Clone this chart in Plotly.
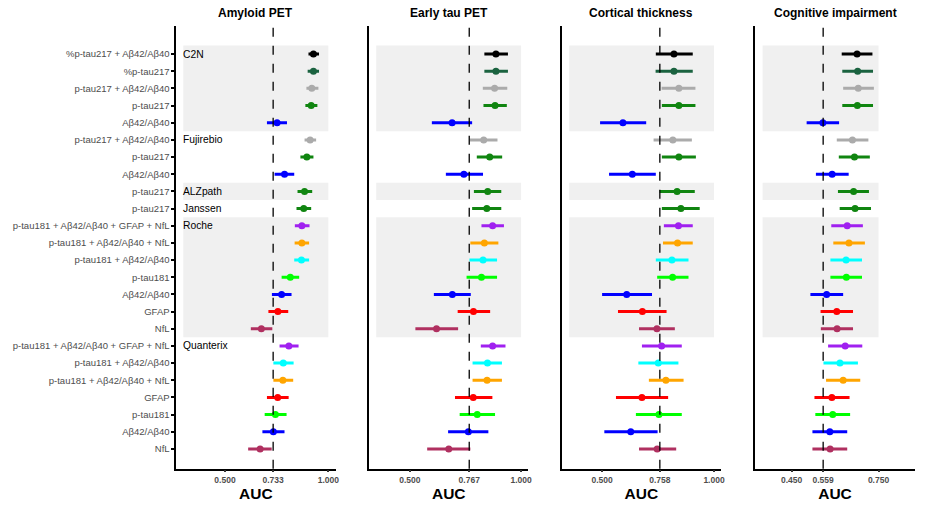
import plotly.graph_objects as go

W, H = 930, 513

row_labels = [
    "%p-tau217 + Aβ42/Aβ40", "%p-tau217", "p-tau217 + Aβ42/Aβ40", "p-tau217", "Aβ42/Aβ40",
    "p-tau217 + Aβ42/Aβ40", "p-tau217", "Aβ42/Aβ40",
    "p-tau217",
    "p-tau217",
    "p-tau181 + Aβ42/Aβ40 + GFAP + NfL", "p-tau181 + Aβ42/Aβ40 + NfL", "p-tau181 + Aβ42/Aβ40",
    "p-tau181", "Aβ42/Aβ40", "GFAP", "NfL",
    "p-tau181 + Aβ42/Aβ40 + GFAP + NfL", "p-tau181 + Aβ42/Aβ40", "p-tau181 + Aβ42/Aβ40 + NfL",
    "GFAP", "p-tau181", "Aβ42/Aβ40", "NfL",
]
row_kind = [
    "pct_combo", "pct", "combo217", "ptau217", "ab",
    "combo217", "ptau217", "ab",
    "ptau217",
    "ptau217",
    "all4", "combo_nfl", "combo181", "ptau181", "ab", "gfap", "nfl",
    "all4", "combo181", "combo_nfl", "gfap", "ptau181", "ab", "nfl",
]
kind_colors = {
    "pct_combo": "#000000", "pct": "#1b6340", "combo217": "#ababab", "ptau217": "#108510",
    "ab": "#0000ff", "all4": "#a020f0", "combo_nfl": "#ffa500", "combo181": "#00ffff",
    "ptau181": "#00ff00", "gfap": "#ff0000", "nfl": "#b03060",
}

companies = ["C2N", "Fujirebio", "ALZpath", "Janssen", "Roche", "Quanterix"]
company_rows = [1, 6, 9, 10, 11, 18]
company_spans = [(1, 5), (6, 8), (9, 9), (10, 10), (11, 17), (18, 24)]
shaded = [True, False, True, False, True, False]

panel_titles = ["Amyloid PET", "Early tau PET", "Cortical thickness", "Cognitive impairment"]
ref_values = [0.733, 0.767, 0.758, 0.559]
tick_values = [[0.5, 0.733, 1.0], [0.5, 0.767, 1.0], [0.5, 0.758, 1.0], [0.45, 0.559, 0.75]]
tick_text = [["0.500", "0.733", "1.000"], ["0.500", "0.767", "1.000"],
             ["0.500", "0.758", "1.000"], ["0.450", "0.559", "0.750"]]
shade_lo = [0.298, 0.349, 0.353, 0.350]
shade_hi = [1.0, 1.0, 1.0, 0.75]
x_ranges = [[0.264, 1.035], [0.317, 1.033], [0.319, 1.032], [0.324, 0.876]]

amyloid_auc = [0.928, 0.928, 0.920, 0.917, 0.752, 0.912, 0.896, 0.788, 0.885, 0.881,
               0.872, 0.872, 0.870, 0.816, 0.774, 0.756, 0.676,
               0.809, 0.782, 0.780, 0.755, 0.744, 0.734, 0.670]
amyloid_lo = [0.904, 0.900, 0.894, 0.889, 0.703, 0.885, 0.865, 0.740, 0.851, 0.846,
              0.838, 0.837, 0.835, 0.774, 0.727, 0.710, 0.625,
              0.764, 0.734, 0.734, 0.703, 0.692, 0.681, 0.612]
amyloid_hi = [0.955, 0.955, 0.952, 0.947, 0.800, 0.941, 0.928, 0.835, 0.922, 0.917,
              0.909, 0.907, 0.907, 0.859, 0.822, 0.806, 0.729,
              0.856, 0.832, 0.830, 0.808, 0.798, 0.788, 0.726]

tau_auc = [0.887, 0.887, 0.881, 0.883, 0.690, 0.832, 0.859, 0.743, 0.850, 0.846,
           0.872, 0.835, 0.829, 0.822, 0.691, 0.786, 0.620,
           0.872, 0.849, 0.847, 0.785, 0.803, 0.763, 0.675]
tau_lo = [0.835, 0.835, 0.828, 0.831, 0.599, 0.770, 0.801, 0.662, 0.788, 0.780,
          0.822, 0.772, 0.768, 0.755, 0.608, 0.715, 0.525,
          0.819, 0.782, 0.782, 0.703, 0.724, 0.672, 0.578]
tau_hi = [0.941, 0.941, 0.938, 0.936, 0.780, 0.894, 0.915, 0.829, 0.911, 0.911,
          0.923, 0.898, 0.892, 0.892, 0.774, 0.861, 0.717,
          0.930, 0.914, 0.914, 0.871, 0.883, 0.853, 0.772]

cortical_auc = [0.821, 0.821, 0.843, 0.843, 0.593, 0.816, 0.843, 0.635, 0.835, 0.852,
                0.841, 0.837, 0.812, 0.815, 0.610, 0.680, 0.745,
                0.766, 0.751, 0.785, 0.678, 0.754, 0.628, 0.746]
cortical_lo = [0.740, 0.739, 0.766, 0.767, 0.491, 0.730, 0.767, 0.531, 0.757, 0.767,
               0.776, 0.772, 0.740, 0.746, 0.500, 0.571, 0.665,
               0.678, 0.662, 0.709, 0.562, 0.651, 0.510, 0.665]
cortical_hi = [0.905, 0.905, 0.917, 0.917, 0.697, 0.901, 0.919, 0.740, 0.914, 0.936,
               0.905, 0.905, 0.886, 0.886, 0.723, 0.788, 0.825,
               0.856, 0.841, 0.864, 0.795, 0.856, 0.748, 0.831]

cognitive_auc = [0.676, 0.678, 0.680, 0.677, 0.558, 0.660, 0.667, 0.590, 0.664, 0.669,
                 0.642, 0.648, 0.638, 0.639, 0.571, 0.606, 0.607,
                 0.635, 0.617, 0.628, 0.589, 0.592, 0.582, 0.583]
cognitive_lo = [0.623, 0.625, 0.628, 0.625, 0.502, 0.606, 0.613, 0.534, 0.610, 0.616,
                0.587, 0.594, 0.584, 0.584, 0.515, 0.550, 0.551,
                0.576, 0.560, 0.569, 0.529, 0.532, 0.522, 0.522]
cognitive_hi = [0.729, 0.731, 0.734, 0.731, 0.614, 0.715, 0.720, 0.647, 0.717, 0.724,
                0.696, 0.703, 0.693, 0.693, 0.628, 0.662, 0.662,
                0.694, 0.679, 0.687, 0.650, 0.652, 0.642, 0.642]

panels = [
    (amyloid_auc, amyloid_lo, amyloid_hi),
    (tau_auc, tau_lo, tau_hi),
    (cortical_auc, cortical_lo, cortical_hi),
    (cognitive_auc, cognitive_lo, cognitive_hi),
]

rows = list(range(1, len(row_labels) + 1))

# pixel layout
px_x = [(177, 337), (370.7, 530.7), (564, 724.3), (758.3, 919)]
top_px, bot_px = 25.7, 468.7
y_dom = [1 - bot_px / H, 1 - top_px / H]
y_range = [25.15, -0.65]

fig = go.Figure()
FONT = "Liberation Sans, Arial, sans-serif"
layout = dict(
    width=W, height=H, margin=dict(l=0, r=0, t=0, b=0),
    plot_bgcolor="white", paper_bgcolor="white", showlegend=False,
    font=dict(family=FONT, color="#000000"),
)
shapes = []
annotations = []

for p in range(4):
    xa = "x" if p == 0 else f"x{p+1}"
    ya = "y" if p == 0 else f"y{p+1}"
    xkey = "xaxis" if p == 0 else f"xaxis{p+1}"
    ykey = "yaxis" if p == 0 else f"yaxis{p+1}"
    x0, x1 = px_x[p]
    layout[xkey] = dict(
        domain=[x0 / W, x1 / W], anchor=ya, range=x_ranges[p],
        tickvals=tick_values[p], ticktext=[f"<b>{t}</b>" for t in tick_text[p]],
        ticks="outside", ticklen=2, tickwidth=1.5, tickcolor="#333333",
        showgrid=False, zeroline=False, showline=True, linecolor="#000000", linewidth=1.5,
        tickfont=dict(family=FONT, size=8.5, color="#4d4d4d"),
        title=dict(text="<b>AUC</b>", font=dict(family=FONT, size=15.5, color="#000000"), standoff=4),
    )
    ydict = dict(
        domain=y_dom, anchor=xa, range=y_range,
        showgrid=False, zeroline=False, showline=True, linecolor="#000000", linewidth=1.5,
        tickvals=rows,
    )
    if p == 0:
        ydict.update(ticktext=row_labels, ticks="outside", ticklen=3, tickwidth=2,
                     tickcolor="#000000",
                     tickfont=dict(family=FONT, size=9.5, color="#4d4d4d"))
    else:
        ydict.update(showticklabels=False, ticks="")
    layout[ykey] = ydict

    # shaded bands
    for (r0, r1), sh in zip(company_spans, shaded):
        if sh:
            shapes.append(dict(type="rect", xref=xa, yref=ya, x0=shade_lo[p], x1=shade_hi[p],
                               y0=r0 - 0.5, y1=r1 + 0.5, fillcolor="#f0f0f0",
                               line=dict(width=0), layer="below"))
    # reference line
    shapes.append(dict(type="line", xref=xa, yref=f"{ya} domain", x0=ref_values[p], x1=ref_values[p],
                       y0=0, y1=1, line=dict(color="#000000", width=1.3, dash="dash")))
    # company labels (first panel only)
    if p == 0:
        for name, r in zip(companies, company_rows):
            annotations.append(dict(x=shade_lo[p], y=r, xref=xa, yref=ya, text=name, showarrow=False,
                                    xanchor="left", yanchor="middle", xshift=-2,
                                    font=dict(family=FONT, size=10.3, color="#000000")))
    # title
    annotations.append(dict(x=(x0 + x1) / 2 / W, y=1 - 12.7 / H, xref="paper", yref="paper",
                            text=f"<b>{panel_titles[p]}</b>", showarrow=False,
                            xanchor="center", yanchor="middle",
                            font=dict(family=FONT, size=12, color="#000000")))

    auc, lo, hi = panels[p]
    for kind, col in kind_colors.items():
        idx = [i for i, k in enumerate(row_kind) if k == kind]
        if not idx:
            continue
        xs = [auc[i] for i in idx]
        ys = [rows[i] for i in idx]
        plus = [hi[i] - auc[i] for i in idx]
        minus = [auc[i] - lo[i] for i in idx]
        fig.add_trace(go.Scatter(
            x=xs, y=ys, xaxis=xa, yaxis=ya, mode="markers",
            marker=dict(color=col, size=7),
            error_x=dict(type="data", symmetric=False, array=plus, arrayminus=minus,
                         color=col, thickness=3, width=0),
            hoverinfo="skip",
        ))

layout["shapes"] = shapes
layout["annotations"] = annotations
fig.update_layout(**layout)
fig.write_html("out.html", config={"displayModeBar": False},
               post_script="document.body.style.margin='0px';")
